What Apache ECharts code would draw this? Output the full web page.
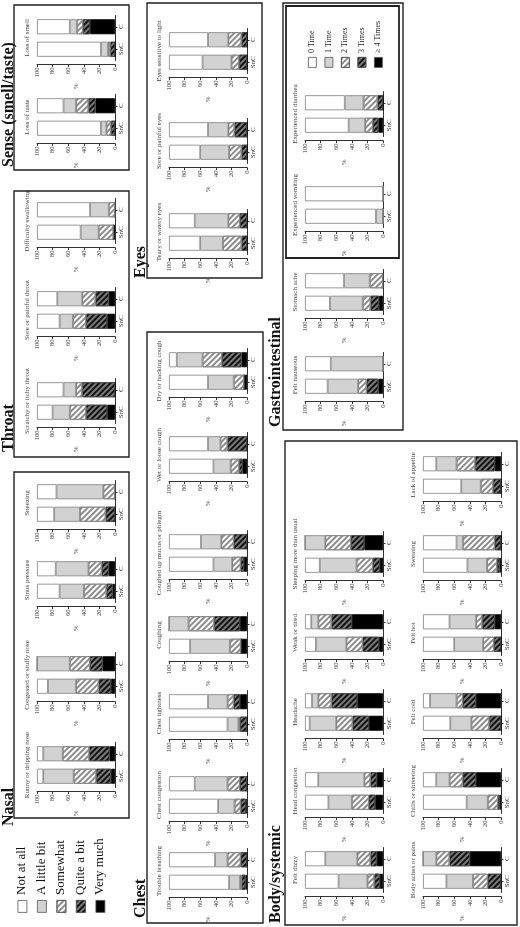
<!DOCTYPE html>
<html><head><meta charset="utf-8">
<script src="https://cdn.jsdelivr.net/npm/echarts@6/dist/echarts.min.js"></script>
<style>html,body{margin:0;padding:0;background:#fff}#c{width:520px;height:927px}</style>
</head><body><div id="c"></div>
<script>
// ---------------- DATA ----------------
const panelTitles = ['Runny or dripping nose','Congested or stuffy nose','Sinus pressure','Sneezing',
  'Scratchy or itchy throat','Sore or painful throat','Difficulty swallowing','Loss of taste','Loss of smell',
  'Trouble breathing','Chest congestion','Chest tightness','Coughing','Coughed up mucus or phlegm',
  'Wet or loose cough','Dry or hacking cough','Teary or watery eyes','Sore or painful eyes','Eyes sensitive to light',
  'Felt dizzy','Head congestion','Headache','Weak or tired','Sleeping more than usual',
  'Body aches or pains','Chills or shivering','Felt cold','Felt hot','Sweating','Lack of appetite',
  'Felt nauseous','Stomach ache','Experienced vomiting','Experienced diarrhea'];
const groupTitles = ['Nasal','Throat','Sense (smell/taste)','Chest','Eyes','Body/systemic','Gastrointestinal'];
const groups = ['SnC','C'];
const severityLevels = ['Not at all','A little bit','Somewhat','Quite a bit','Very much'];
const timesLevels = ['0 Time','1 Time','2 Times','3 Times','\u2265 4 Times'];
const axisTicks = [0,20,40,60,80,100];

// % of respondents, SnC group (per panel, same order as panelTitles)
const sncNotAtAll   = [8,14,29,22,20,29,56,82,82,77,63,75,27,57,57,50,40,40,43,43,30,6,14,19,30,56,35,40,57,49,29,32,91,56];
const sncALittleBit = [39,36,31,33,22,17,23,7,9,14,21,14,51,24,22,33,29,37,37,37,30,34,39,47,34,27,27,37,25,25,39,42,9,21];
const sncSomewhat   = [29,29,29,33,21,17,19,6,3,2,8,2,14,11,11,13,24,16,10,9,22,21,21,21,19,13,23,14,13,16,11,10,0,10];
const sncQuiteABit  = [19,16,8,12,27,27,0,5,6,5,7,9,0,4,4,0,7,7,10,7,8,21,21,9,17,2,15,9,3,10,15,11,0,7];
const sncVeryMuch   = [5,5,3,0,10,10,2,0,0,2,1,0,8,4,6,4,0,0,0,4,10,18,5,4,0,2,0,0,2,0,6,5,0,6];
// % of respondents, C group
const cNotAtAll     = [8,0,24,25,34,26,68,34,42,59,33,50,0,41,50,10,33,50,50,26,17,9,8,0,0,17,9,34,43,17,33,50,100,51];
const cALittleBit   = [25,42,42,60,16,32,24,16,9,16,42,25,25,26,16,33,43,26,26,41,59,8,9,26,17,17,34,34,8,26,67,33,0,24];
const cSomewhat     = [34,26,17,15,8,17,8,16,8,17,16,8,33,16,9,25,15,8,17,17,8,17,17,33,17,17,8,8,41,24,0,17,0,18];
const cQuiteABit    = [26,16,9,0,42,17,0,9,9,8,9,8,33,17,25,25,9,16,7,8,8,33,26,17,26,17,17,16,8,25,0,0,0,7];
const cVeryMuch     = [7,16,8,0,0,8,0,25,32,0,0,9,9,0,0,7,0,0,0,8,8,33,40,24,40,32,32,8,0,8,0,0,0,0];

// ---------------- LAYOUT (figure is rotated 90deg) ----------------
const rowX = {A:37, B:169, C:305, D:423};
const panelLayout = [
  ['A',765],['A',675],['A',580],['A',503],['A',401],['A',310],['A',221],['A',117],['A',38],
  ['B',871],['B',795],['B',713],['B',635],['B',553],['B',455],['B',371],['B',232],['B',141],['B',51],
  ['C',870],['C',791],['C',712],['C',633],['C',554],
  ['D',870],['D',791],['D',712],['D',633],['D',554],['D',475],
  ['C',375],['C',292],['C',205],['C',114]
];
const boxes = [[14,472,129,818],[14,191,129,457],[14,5,129,170],[147,332,263,923],[147,3,262,278],
  [285,441,517,925],[283,3,403,430],[286,6,399,258]];
const groupTitlePos = [[9,826],[9,452],[9,167],[141,918],[141,278],[276,923],[276,427]];

const FONT = '"Liberation Serif","DejaVu Serif",serif';
const W = 78, H = 45;

const sncLevels = [sncNotAtAll,sncALittleBit,sncSomewhat,sncQuiteABit,sncVeryMuch];
const cLevels = [cNotAtAll,cALittleBit,cSomewhat,cQuiteABit,cVeryMuch];

const levelStyle = [
  {color:'#ffffff', borderColor:'#808080', borderWidth:0.8},
  {color:'#d2d2d2', borderColor:'#808080', borderWidth:0.8},
  {color:'#ffffff', borderColor:'#808080', borderWidth:0.8,
    decal:{symbol:'rect', symbolSize:1, dashArrayX:[1,0], dashArrayY:[1.3,2], rotation:-Math.PI/4, color:'#8c8c8c'}},
  {color:'#7a7a7a', borderColor:'#444', borderWidth:0.8,
    decal:{symbol:'rect', symbolSize:1, dashArrayX:[1,0], dashArrayY:[1.6,1.6], rotation:-Math.PI/4, color:'#111'}},
  {color:'#000000', borderColor:'#000', borderWidth:0.8}
];

const grids = [], xAxes = [], yAxes = [], series = [], graphics = [];
panelTitles.forEach((title, p) => {
  const ax = rowX[panelLayout[p][0]], cy = panelLayout[p][1];
  grids.push({left: ax, top: cy - H/2, width: W, height: H, containLabel:false});
  xAxes.push({type:'value', gridIndex:p, min:0, max:100, interval:20, inverse:true, position:'bottom', offset:4,
    name:'%', nameLocation:'middle', nameGap:19, nameRotate:90,
    nameTextStyle:{fontSize:7, color:'#555', fontFamily:FONT},
    axisLine:{show:true, onZero:false, lineStyle:{color:'#333', width:1}},
    axisTick:{show:true, length:2.5, lineStyle:{color:'#333'}},
    axisLabel:{rotate:90, fontSize:6.5, color:'#333', margin:3, fontFamily:FONT},
    splitLine:{show:false}});
  yAxes.push({type:'category', gridIndex:p, data:groups, position:'right',
    axisLine:{show:true, onZero:false, lineStyle:{color:'#333', width:1}},
    axisTick:{show:true, alignWithLabel:true, length:2.5, lineStyle:{color:'#333'}},
    axisLabel:{rotate:90, fontSize:7, color:'#333', margin:3, fontFamily:FONT}});
  const names = p >= 32 ? timesLevels : severityLevels;
  for (let l = 4; l >= 0; l--) {
    series.push({type:'bar', name:names[l], xAxisIndex:p, yAxisIndex:p, stack:'s'+p, barWidth:15,
      silent:true, animation:false, itemStyle:levelStyle[l],
      data:[sncLevels[l][p], cLevels[l][p]]});
  }
  graphics.push({type:'text', x: ax - 10, y: cy, rotation: Math.PI/2, silent:true,
    style:{text:title, font:'7px ' + FONT, fill:'#444', textAlign:'center', textVerticalAlign:'middle', align:'center', verticalAlign:'middle'}});
});

boxes.forEach((b, i) => {
  graphics.push({type:'rect', silent:true, shape:{x:b[0], y:b[1], width:b[2]-b[0], height:b[3]-b[1]},
    style:{fill:'none', stroke:'#222', lineWidth: i === 7 ? 1.8 : 1.4}});
});
groupTitles.forEach((t, i) => {
  graphics.push({type:'text', x:groupTitlePos[i][0], y:groupTitlePos[i][1], rotation:Math.PI/2, silent:true,
    style:{text:t, font:'bold 16px ' + FONT, fill:'#111', textAlign:'left', textVerticalAlign:'middle', align:'left', verticalAlign:'middle'}});
});

// legends (symbols via ECharts legend, labels rotated as graphic text)
const legends = [];
const sevX = [22, 41.5, 61, 80.5, 100];
severityLevels.forEach((n, i) => {
  legends.push({data:[n], left: sevX[i] - 4.5, top: 900, itemWidth:9, itemHeight:12, icon:'rect', padding:0,
    selectedMode:false, formatter: () => '', itemStyle:{borderColor:'#555', borderWidth:0.8}});
  graphics.push({type:'text', x: sevX[i], y: 895, rotation:Math.PI/2, silent:true,
    style:{text:n, font:'13px ' + FONT, fill:'#111', textAlign:'left', textVerticalAlign:'middle', align:'left', verticalAlign:'middle'}});
});
const timX = [312, 328.5, 345, 361.5, 378];
timesLevels.forEach((n, i) => {
  legends.push({data:[n], left: timX[i] - 4, top: 57, itemWidth:8, itemHeight:10, icon:'rect', padding:0,
    selectedMode:false, formatter: () => '', itemStyle:{borderColor:'#555', borderWidth:0.8}});
  graphics.push({type:'text', x: timX[i], y: 53, rotation:Math.PI/2, silent:true,
    style:{text:n, font:'8px ' + FONT, fill:'#222', textAlign:'left', textVerticalAlign:'middle', align:'left', verticalAlign:'middle'}});
});

const chart = echarts.init(document.getElementById('c'));
chart.setOption({
  animation:false,
  backgroundColor:'#fff',
  textStyle:{fontFamily:FONT},
  grid:grids, xAxis:xAxes, yAxis:yAxes, series:series, legend:legends,
  graphic:graphics
});
</script>
</body></html>
